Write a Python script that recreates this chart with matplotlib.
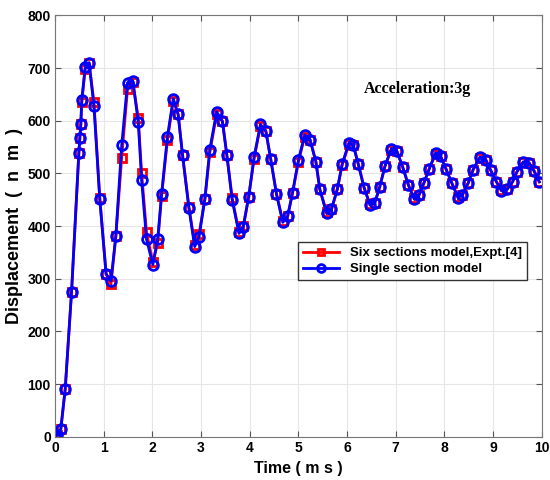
import numpy as np
import matplotlib
matplotlib.use('Agg')
import matplotlib.pyplot as plt

plt.rcParams['font.family'] = ['Liberation Sans', 'DejaVu Sans']

# time (ms) and displacement (nm)
t = [0.0, 0.04, 0.12, 0.21, 0.34, 0.49, 0.51, 0.53, 0.55, 0.62, 0.70, 0.80,
     0.92, 1.05, 1.15, 1.25, 1.37, 1.49, 1.60, 1.71, 1.78, 1.88, 2.01, 2.11,
     2.19, 2.31, 2.43, 2.53, 2.62, 2.75, 2.87, 2.96, 3.08, 3.18, 3.32, 3.44,
     3.53, 3.64, 3.78, 3.87, 3.98, 4.09, 4.22, 4.33, 4.43, 4.55, 4.68, 4.78,
     4.88, 5.00, 5.13, 5.24, 5.36, 5.44, 5.58, 5.68, 5.80, 5.90, 6.04, 6.13,
     6.23, 6.35, 6.47, 6.57, 6.67, 6.78, 6.91, 7.02, 7.14, 7.26, 7.38, 7.48,
     7.58, 7.69, 7.82, 7.92, 8.03, 8.15, 8.28, 8.37, 8.49, 8.59, 8.73, 8.85,
     8.95, 9.07, 9.17, 9.29, 9.40, 9.49, 9.62, 9.74, 9.84, 9.95]

single = [0, 3, 15, 91, 275, 539, 567, 593, 639, 702, 710, 628,
          451, 309, 296, 381, 553, 672, 675, 598, 487, 375, 327, 375,
          461, 570, 642, 612, 535, 435, 361, 380, 452, 545, 617, 599,
          535, 450, 386, 399, 456, 531, 593, 581, 528, 461, 407, 419,
          463, 525, 573, 564, 522, 470, 424, 432, 470, 518, 558, 553,
          518, 473, 440, 444, 474, 514, 547, 543, 513, 478, 451, 459,
          482, 509, 539, 533, 509, 482, 454, 459, 482, 507, 531, 526,
          506, 484, 467, 470, 484, 503, 522, 520, 505, 484]

six = [0, 3, 15, 91, 275, 539, 567, 593, 636, 698, 710, 635,
       453, 309, 290, 381, 530, 660, 673, 605, 500, 388, 332, 368,
       458, 563, 638, 612, 535, 437, 365, 385, 452, 540, 612, 599,
       535, 453, 388, 401, 456, 528, 590, 581, 528, 461, 409, 419,
       463, 522, 570, 564, 522, 470, 426, 432, 470, 516, 556, 553,
       518, 473, 442, 444, 474, 514, 545, 543, 513, 478, 453, 459,
       482, 509, 537, 533, 509, 482, 456, 459, 482, 507, 530, 526,
       506, 484, 468, 470, 484, 503, 521, 520, 505, 484]

fig = plt.figure(figsize=(5.5, 4.8), dpi=100)
ax = fig.add_axes([0.1, 0.09, 0.885, 0.878])

ax.plot(t, six, color='red', lw=2, marker='s', ms=5.5, mfc='none', mec='red',
        mew=2, label='Six sections model,Expt.[4]')
ax.plot(t, single, color='blue', lw=2, marker='o', ms=7, mfc='none', mec='blue',
        mew=2, label='Single section model')

ax.set_xlim(0, 10)
ax.set_ylim(0, 800)
ax.set_xticks(range(0, 11))
ax.set_yticks(range(0, 801, 100))
ax.grid(True, color='#e6e6e6', lw=0.8)
ax.tick_params(direction='in', top=True, right=True, length=4, color='#555555',
               labelsize=10, pad=3)
for lab in ax.get_xticklabels() + ax.get_yticklabels():
    lab.set_fontweight('bold')
for s in ax.spines.values():
    s.set_color('#777777')

ax.set_xlabel('Time ( m s )', fontsize=11.5, fontweight='bold', labelpad=4)
ax.set_ylabel('Displacement  (  n  m  )', fontsize=13, fontweight='bold', labelpad=3)

ax.text(7.45, 660, 'Acceleration:3g', family='Liberation Serif', fontweight='bold',
        fontsize=11.5, ha='center', va='center')

leg = ax.legend(loc='lower left', bbox_to_anchor=(0.499, 0.372), fancybox=False,
                edgecolor='#333333', framealpha=1, prop={'weight': 'bold', 'size': 9.5},
                borderaxespad=0, handlelength=2.8, markerscale=0.8, borderpad=0.35,
                labelspacing=0.3)
leg.get_frame().set_linewidth(1.0)

fig.savefig('out.png', dpi=100)
